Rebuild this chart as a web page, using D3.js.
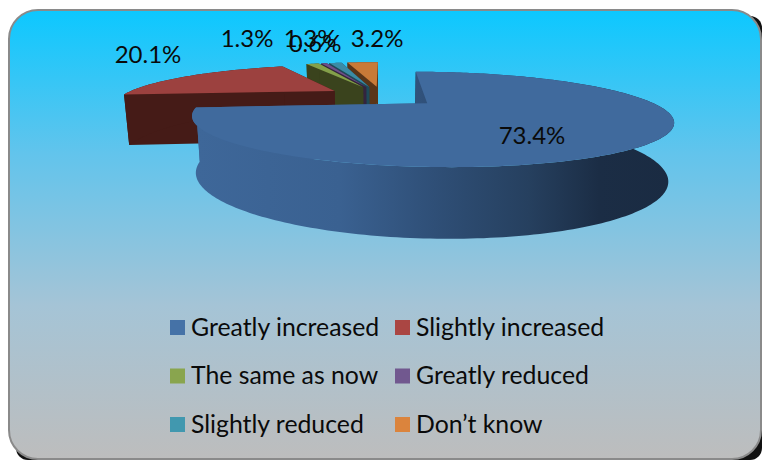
<!DOCTYPE html>
<html><head><meta charset="utf-8">
<script src="https://cdn.jsdelivr.net/npm/d3@7"></script>
<style>html,body{margin:0;padding:0;background:#fff}svg{display:block}text{font-family:Lato,"Open Sans",sans-serif;fill:#0a0a0a}</style>
</head><body><svg id="c" width="762" height="460"></svg>
<script>
const categories=["Greatly increased","Slightly increased","The same as now","Greatly reduced","Slightly reduced","Don\u2019t know"];
const values=[73.4,20.1,1.3,0.6,1.3,3.2];
const valueLabels=["73.4%","20.1%","1.3%","0.6%","1.3%","3.2%"];
const legendColors=["#4572a7","#aa4643","#89a54e","#71588f","#4198af","#db843d"];
const topColors=["#406a9d","#9c413f","#84a04a","#6d4f8a","#3b8ba6","#c97a38"];
const wallColors=["#33527b","#451b17","#3a431d","#33243f","#1e4a58","#5a3518"];
// label anchor positions (layout only)
const labelAt=[[532,144],[148,63],[247,47],[315,52],[310,47],[377,47]];

const svg=d3.select("#c");
const defs=svg.append("defs");
const bg=defs.append("linearGradient").attr("id","bg").attr("x1",0).attr("y1",0).attr("x2",0).attr("y2",1);
[[0,"#0cc8ff"],[.32,"#62c4ec"],[.66,"#a5c4d6"],[1,"#bdbdbd"]].forEach(s=>bg.append("stop").attr("offset",s[0]).attr("stop-color",s[1]));
const mw=defs.append("linearGradient").attr("id","mainWall").attr("gradientUnits","userSpaceOnUse").attr("x1",198).attr("x2",670).attr("y1",0).attr("y2",0);
[[0,"#3e6799"],[.3,"#3a6191"],[.5,"#2f4f77"],[.7,"#26405f"],[.85,"#1b2d45"],[1,"#1a2b42"]].forEach(s=>mw.append("stop").attr("offset",s[0]).attr("stop-color",s[1]));

svg.append("rect").attr("x",16).attr("y",16).attr("width",746).attr("height",444).attr("rx",12).attr("fill","#111");
svg.append("rect").attr("x",9).attr("y",10).attr("width",752).attr("height",449).attr("rx",29).attr("fill","url(#bg)").attr("stroke","#8a8a8a").attr("stroke-width",2);

// perspective model of the exploded 3-D pie
const cx=382,Yh=-21,A=117,k=.32,R=213,shrink=.98,explode=.27;
const wallA=17,wallB=34;
function proj(x,z,low){const w=1+k*z;
  return low?[cx+R*shrink*x/w,Yh+A/w+wallA+wallB/w]:[cx+R*x/w,Yh+A/w];}
const pie=d3.pie().sort(null).value(d=>d)(values);
const line=d3.line();
const slices=pie.map((p,i)=>{
  const mid=(p.startAngle+p.endAngle)/2,ox=explode*Math.sin(mid),oz=explode*Math.cos(mid);
  const n=Math.max(2,Math.ceil((p.endAngle-p.startAngle)/.02));
  const ang=d3.range(n+1).map(j=>p.startAngle+(p.endAngle-p.startAngle)*j/n);
  const pt=(a,low)=>proj(ox+Math.sin(a),oz+Math.cos(a),low);
  const apex=low=>proj(ox,oz,low);
  return {i,ang,pt,apex,s:p.startAngle,e:p.endAngle,mid};
});
const g=svg.append("g");
// paint far slices first, the largest front slice last
[5,4,3,2,1,0].forEach(i=>{
  const s=slices[i],wall=i===0?"url(#mainWall)":wallColors[i];
  const side=a=>line([s.apex(false),s.pt(a,false),s.pt(a,true),s.apex(true)])+"Z";
  g.append("path").attr("d",side(s.s)).attr("fill",i===0?"#16263c":wall);
  g.append("path").attr("d",side(s.e)).attr("fill",wall);
  const up=s.ang.map(a=>s.pt(a,false)),lo=s.ang.map(a=>s.pt(a,true)).reverse();
  g.append("path").attr("d",line(up.concat(lo))+"Z").attr("fill",wall);
  g.append("path").attr("d",line([s.apex(false)].concat(up))+"Z").attr("fill",topColors[i]);
});
// labels
const order=[2,4,3,5,1,0];
order.forEach(i=>svg.append("text").attr("x",labelAt[i][0]).attr("y",labelAt[i][1]).attr("text-anchor","middle").attr("font-size",24).text(valueLabels[i]));
// legend
const colX=d3.scalePoint().domain([0,1]).range([170,395]);
const rowY=d3.scalePoint().domain([0,1,2]).range([320,417]);
categories.forEach((c,i)=>{
  const x=colX(i%2),y=rowY(Math.floor(i/2));
  svg.append("rect").attr("x",x).attr("y",y).attr("width",15).attr("height",15).attr("fill",legendColors[i]);
  svg.append("text").attr("x",x+21).attr("y",y+15.5).attr("font-size",24.8).text(c);
});
</script></body></html>
